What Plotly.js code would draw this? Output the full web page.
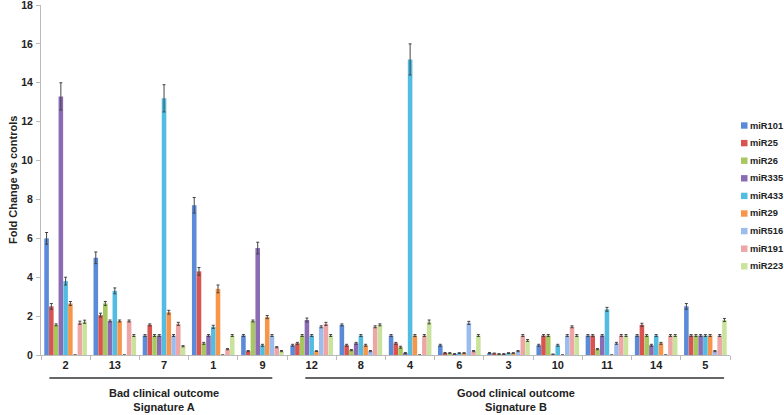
<!DOCTYPE html>
<html>
<head>
<meta charset="utf-8">
<script src="https://cdn.plot.ly/plotly-3.0.1.min.js"></script>
<style>
html,body{margin:0;padding:0;background:#fff;}
#chart{width:784px;height:415px;}
</style>
</head>
<body>
<div id="chart"></div>
<script>
const categories = ["2","13","7","1","9","12","8","4","6","3","10","11","14","5"];
const seriesNames = ["miR101","miR25","miR26","miR335","miR433","miR29","miR516","miR191","miR223"];

const miR101 = [6.0, 5.0, 1.0, 7.7, 1.0, 0.5, 1.55, 1.0, 0.5, 0.1, 0.5, 1.0, 1.0, 2.5];
const miR25  = [2.5, 2.05, 1.55, 4.3, 0.2, 0.6, 0.5, 0.6, 0.1, 0.08, 1.0, 1.0, 1.55, 1.0];
const miR26  = [1.55, 2.65, 1.0, 0.6, 1.75, 1.0, 0.25, 0.4, 0.1, 0.05, 1.0, 0.3, 1.0, 1.0];
const miR335 = [13.3, 1.75, 1.0, 1.0, 5.5, 1.8, 0.6, 0.1, 0.05, 0.05, 0.03, 1.0, 0.5, 1.0];
const miR433 = [3.8, 3.3, 13.2, 1.45, 0.5, 1.0, 1.0, 15.2, 0.1, 0.1, 0.5, 2.35, 1.0, 1.0];
const miR29  = [2.65, 1.75, 2.2, 3.4, 1.95, 0.2, 0.5, 1.0, 0.1, 0.1, 0, 0, 0.6, 1.0];
const miR516 = [0, 0, 1.0, 0, 1.0, 1.45, 0.2, 0, 1.65, 0.2, 1.0, 0.6, 0, 0.2];
const miR191 = [1.66, 1.75, 1.6, 0.3, 0.4, 1.6, 1.45, 1.0, 0.2, 1.0, 1.45, 1.0, 1.0, 1.0];
const miR223 = [1.71, 1.0, 0.45, 1.0, 0.2, 1.0, 1.55, 1.7, 1.0, 0.75, 1.0, 1.0, 1.0, 1.8];

const err101 = [0.3, 0.3, 0.05, 0.4, 0.05, 0.05, 0.05, 0.05, 0.05, 0.03, 0.05, 0.05, 0.05, 0.15];
const err25  = [0.15, 0.1, 0.05, 0.2, 0.03, 0.05, 0.05, 0.05, 0.03, 0.02, 0.05, 0.05, 0.08, 0.05];
const err26  = [0.05, 0.1, 0.05, 0.05, 0.05, 0.05, 0.03, 0.05, 0.02, 0.02, 0.05, 0.03, 0.05, 0.05];
const err335 = [0.7, 0.05, 0.05, 0.05, 0.3, 0.1, 0.05, 0.03, 0.02, 0.02, 0.02, 0.05, 0.05, 0.05];
const err433 = [0.2, 0.15, 0.7, 0.08, 0.05, 0.05, 0.05, 0.8, 0.02, 0.02, 0.05, 0.1, 0.05, 0.05];
const err29  = [0.1, 0.05, 0.1, 0.2, 0.08, 0.02, 0.05, 0.05, 0.02, 0.02, 0, 0, 0.05, 0.05];
const err516 = [0, 0, 0.05, 0, 0.05, 0.05, 0.03, 0, 0.08, 0.03, 0.05, 0.05, 0, 0.03];
const err191 = [0.08, 0.05, 0.08, 0.03, 0.03, 0.08, 0.05, 0.05, 0.03, 0.05, 0.05, 0.05, 0.05, 0.05];
const err223 = [0.08, 0.05, 0.03, 0.05, 0.03, 0.05, 0.05, 0.1, 0.05, 0.05, 0.05, 0.05, 0.05, 0.08];

const groupLabels = ["Bad clinical outcome<br>Signature A", "Good clinical outcome<br>Signature B"];
const yTitle = "Fold Change vs controls";

const values = [miR101, miR25, miR26, miR335, miR433, miR29, miR516, miR191, miR223];
const errors = [err101, err25, err26, err335, err433, err29, err516, err191, err223];
const colors = ["#5a8ad8","#d9534f","#a6c85e","#8a6bb4","#52bde0","#f7964a","#9dbcee","#eea5a5","#c9e39c"];

const traces = seriesNames.map((name, i) => ({
  type: "bar",
  name: name,
  x: categories,
  y: values[i],
  marker: {color: colors[i], line: {width: 0}},
  error_y: {type: "data", array: errors[i], visible: true, color: "#444", thickness: 1, width: 1.5}
}));

// plot area geometry (pixels) for the paper-anchored legend
const W = 784, H = 415, ML = 41, MR = 54, MT = 5, MB = 60;
const PW = W - ML - MR, PH = H - MT - MB;
const px = v => (v - ML) / PW;
const py = v => (H - MB - v) / PH;

const shapes = [
  {type: "line", xref: "x", yref: "paper", x0: -0.33, x1: 4.2, y0: py(378), y1: py(378),
   line: {color: "#333", width: 1.5}},
  {type: "line", xref: "x", yref: "paper", x0: 4.87, x1: 13.38, y0: py(378), y1: py(378),
   line: {color: "#333", width: 1.5}}
];
const narrow = "Liberation Sans Narrow, Arial Narrow, sans-serif";
const annotations = [
  {xref: "x", yref: "paper", x: 2, y: py(385), yanchor: "top", showarrow: false,
   text: groupLabels[0], font: {family: narrow, size: 11, color: "#222", weight: "bold"}},
  {xref: "x", yref: "paper", x: 9.15, y: py(385), yanchor: "top", showarrow: false,
   text: groupLabels[1], font: {family: narrow, size: 11, color: "#222", weight: "bold"}},
  {xref: "paper", yref: "paper", x: px(13), y: 0.5, xanchor: "center", yanchor: "middle",
   textangle: -90, showarrow: false,
   text: yTitle, font: {size: 11, color: "#222", weight: "bold"}}
];
seriesNames.forEach((name, i) => {
  const cy = 125.5 + i * 17.6;
  shapes.push({type: "rect", xref: "paper", yref: "paper",
    x0: px(741), x1: px(747.5), y0: py(cy - 3.2), y1: py(cy + 3.2),
    fillcolor: colors[i], line: {width: 0}});
  annotations.push({xref: "paper", yref: "paper", x: px(748), y: py(cy),
    xanchor: "left", yanchor: "middle", showarrow: false, text: name,
    font: {size: 9.3, color: "#222", weight: "bold"}});
});

const layout = {
  width: W, height: H,
  margin: {l: ML, r: MR, t: MT, b: MB},
  paper_bgcolor: "#fff", plot_bgcolor: "#fff",
  barmode: "group", bargap: 0.13, bargroupgap: 0.04,
  font: {family: "Liberation Sans, Arial, sans-serif", size: 11, color: "#222"},
  showlegend: false,
  xaxis: {type: "category", showgrid: false, zeroline: false,
          showline: true, linecolor: "#bbb", linewidth: 1,
          ticks: "outside", tickson: "boundaries", ticklen: 4, tickcolor: "#bbb",
          tickfont: {size: 11, color: "#222", weight: "bold"}},
  yaxis: {range: [0, 18], dtick: 2, showgrid: false, zeroline: false,
          showline: true, linecolor: "#bbb", linewidth: 1,
          ticks: "outside", ticklen: 4, tickcolor: "#bbb", ticklabelstandoff: 1,
          ticklabeloverflow: "allow",
          tickfont: {size: 10.5, color: "#222", weight: "bold"}},
  shapes: shapes,
  annotations: annotations
};

Plotly.newPlot("chart", traces, layout, {displayModeBar: false, staticPlot: true});
</script>
</body>
</html>
